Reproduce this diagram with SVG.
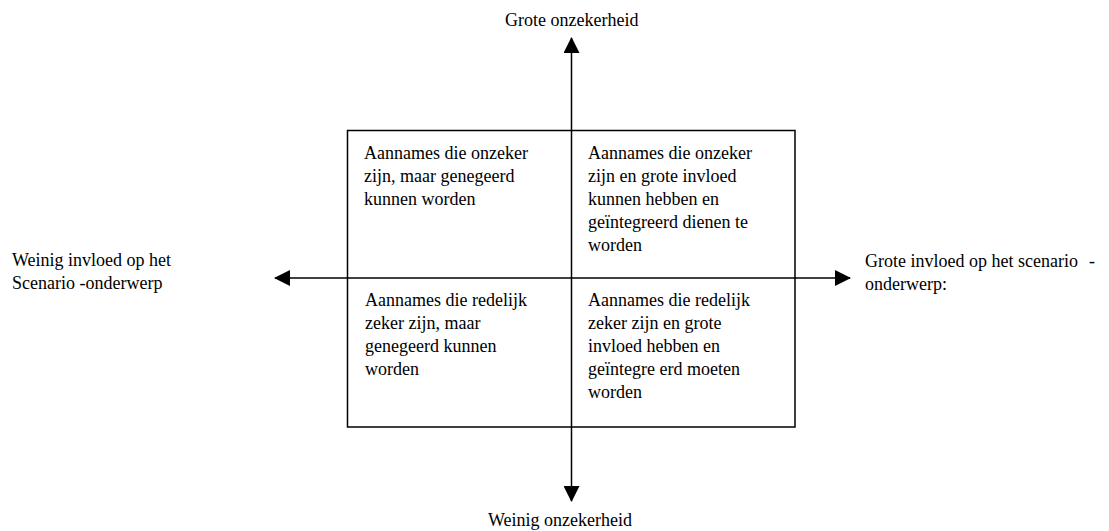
<svg xmlns="http://www.w3.org/2000/svg" width="1109" height="531" viewBox="0 0 1109 531">
<style>
text{font-family:'Liberation Serif', 'DejaVu Serif', serif;font-size:18px;fill:#000}
.ln{stroke:#000;stroke-width:1.5;fill:none}
</style>
<defs>
<marker id="ah" markerWidth="16" markerHeight="16" refX="15" refY="8" orient="auto" markerUnits="userSpaceOnUse">
<path d="M0,0 L16,8 L0,16 Z" fill="#000"/>
</marker>
</defs>
<rect width="1109" height="531" fill="#fff"/>
<g id="matrix">
<rect x="347.5" y="130.5" width="447.5" height="296.5" class="ln"/>
</g>
<g id="connectors">
<line x1="571.5" y1="278" x2="571.5" y2="38" class="ln" marker-end="url(#ah)"/>
<line x1="571.5" y1="278" x2="571.5" y2="501" class="ln" marker-end="url(#ah)"/>
<line x1="571.5" y1="278" x2="275" y2="278" class="ln" marker-end="url(#ah)"/>
<line x1="571.5" y1="278" x2="850" y2="278" class="ln" marker-end="url(#ah)"/>
</g>
<g id="label-top"><text x="505" y="26">Grote onzekerheid</text></g>
<g id="label-bottom"><text x="488" y="526">Weinig onzekerheid</text></g>
<g id="label-left"><text x="12" y="266">Weinig invloed op het</text><text x="12" y="289">Scenario -onderwerp</text></g>
<g id="label-right"><text x="865" y="267">Grote invloed op het scenario</text><text x="1089" y="267">-</text><text x="865" y="290">onderwerp:</text></g>
<g id="cell-tl"><text x="364" y="159">Aannames die onzeker</text><text x="364" y="182">zijn, maar genegeerd</text><text x="364" y="205">kunnen worden</text></g>
<g id="cell-tr"><text x="588" y="159">Aannames die onzeker</text><text x="588" y="182">zijn en grote invloed</text><text x="588" y="205">kunnen hebben en</text><text x="588" y="228">geïntegreerd dienen te</text><text x="588" y="251">worden</text></g>
<g id="cell-bl"><text x="365" y="306">Aannames die redelijk</text><text x="365" y="329">zeker zijn, maar</text><text x="365" y="352">genegeerd kunnen</text><text x="365" y="375">worden</text></g>
<g id="cell-br"><text x="588" y="306">Aannames die redelijk</text><text x="588" y="329">zeker zijn en grote</text><text x="588" y="352">invloed hebben en</text><text x="588" y="375">geïntegre erd moeten</text><text x="588" y="398">worden</text></g>
</svg>
